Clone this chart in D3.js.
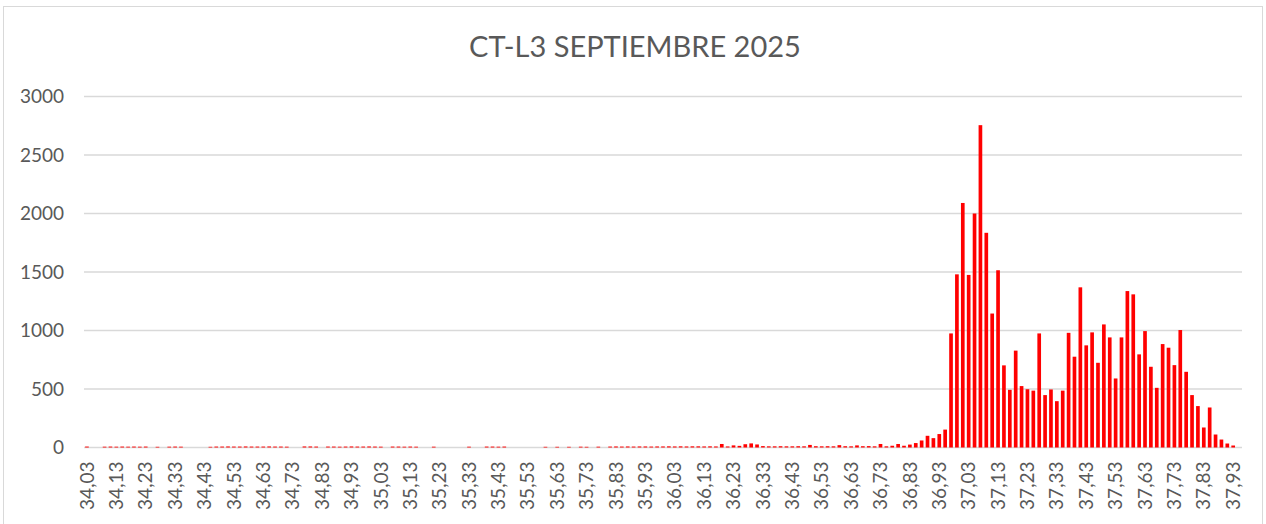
<!DOCTYPE html>
<html>
<head>
<meta charset="utf-8">
<script src="https://cdn.jsdelivr.net/npm/d3@7"></script>
<style>
  html, body { margin: 0; padding: 0; background: #ffffff; }
  svg { display: block; }
  text { font-family: Lato, "Open Sans", "Noto Sans", sans-serif; fill: #595959; }
</style>
</head>
<body>
<svg id="chart" width="1266" height="524"></svg>
<script>
// Chart title
const title = "CT-L3 SEPTIEMBRE 2025";

// Categories: kilometre points from 34,03 to 37,95 in steps of 0,02
const categories = d3.range(197).map(i => (34.03 + i * 0.02).toFixed(2).replace(".", ","));

// Value per kilometre point
const values = [
  8, 0, 0, 7, 8, 7, 8, 7, 8, 7,
  8, 0, 6, 0, 7, 8, 7, 0, 0, 0,
  0, 6, 8, 8, 9, 8, 8, 9, 8, 8,
  8, 9, 8, 8, 7, 0, 0, 9, 9, 8,
  0, 8, 8, 7, 8, 9, 8, 8, 9, 8,
  7, 0, 8, 8, 7, 8, 7, 0, 0, 7,
  0, 0, 0, 0, 0, 7, 0, 0, 8, 8,
  7, 8, 0, 0, 0, 0, 0, 0, 6, 0,
  6, 0, 6, 0, 7, 6, 0, 7, 0, 8,
  9, 8, 9, 8, 9, 9, 8, 9, 9, 10,
  9, 10, 9, 10, 10, 9, 10, 9, 30, 9,
  18, 14, 28, 35, 26, 12, 10, 10, 11, 10,
  10, 11, 10, 22, 11, 10, 11, 10, 20, 11,
  10, 18, 11, 12, 10, 30, 10, 15, 30, 15,
  25, 38, 60, 100, 80, 115, 153, 975, 1480, 2090,
  1475, 2000, 2755, 1835, 1145, 1515, 702, 493, 828, 525,
  498, 486, 975, 448, 496, 396, 486, 980, 776, 1369,
  873, 984, 724, 1052, 941, 590, 941, 1337, 1309, 796,
  995, 690, 510, 884, 853, 704, 1004, 647, 448, 354,
  171, 342, 111, 68, 34, 17, 0
];

// Y axis tick values
const yTicks = [0, 500, 1000, 1500, 2000, 2500, 3000];

// Every fifth category carries a label
const xTickLabels = categories.filter((d, i) => i % 5 === 0);

const svg = d3.select("#chart");

const plot = { left: 84, right: 1242, top: 96.5, bottom: 447.5 };

// Outer chart frame
svg.append("rect")
  .attr("x", 3.5).attr("y", 6.5)
  .attr("width", 1259).attr("height", 530)
  .attr("fill", "none")
  .attr("stroke", "#d9d9d9")
  .attr("stroke-width", 1);

const x = d3.scaleBand()
  .domain(categories)
  .range([plot.left, plot.right])
  .paddingInner(0.375)
  .paddingOuter(0.1875);

const y = d3.scaleLinear()
  .domain([0, 3000])
  .range([plot.bottom, plot.top]);

// Horizontal gridlines
svg.append("g")
  .selectAll("line")
  .data(yTicks)
  .join("line")
  .attr("x1", plot.left).attr("x2", plot.right)
  .attr("y1", d => y(d)).attr("y2", d => y(d))
  .attr("stroke", "#d9d9d9")
  .attr("stroke-width", 1.3);

// Y axis labels
const yAxis = d3.axisLeft(y).tickValues(yTicks).tickSize(0).tickPadding(0).tickFormat(d3.format("d"));
const gy = svg.append("g")
  .attr("transform", `translate(${plot.left - 20},0)`)
  .call(yAxis);
gy.select(".domain").remove();
gy.selectAll("text")
  .attr("font-size", 19)
  .attr("fill", "#595959")
  .style("font-family", "Lato, 'Open Sans', sans-serif");

// Bars
svg.append("g")
  .selectAll("rect")
  .data(values)
  .join("rect")
  .attr("x", (d, i) => x(categories[i]))
  .attr("width", x.bandwidth())
  .attr("y", d => y(d))
  .attr("height", d => y(0) - y(d))
  .attr("fill", "#ff0000");

// X axis labels, rotated
const xAxis = d3.axisBottom(x).tickValues(xTickLabels).tickSize(0).tickPadding(0);
const gx = svg.append("g")
  .attr("transform", `translate(0,${plot.bottom})`)
  .call(xAxis);
gx.select(".domain").remove();
gx.selectAll("text")
  .attr("font-size", 19)
  .attr("fill", "#595959")
  .style("font-family", "Lato, 'Open Sans', sans-serif")
  .attr("text-anchor", "end")
  .attr("dy", "0.35em")
  .attr("transform", "translate(0,14) rotate(-90)")
  .attr("x", 0).attr("y", 0);

// Title
svg.append("text")
  .attr("x", 635)
  .attr("y", 57)
  .attr("text-anchor", "middle")
  .attr("font-size", 29)
  .attr("fill", "#595959")
  .text(title);
</script>
</body>
</html>
